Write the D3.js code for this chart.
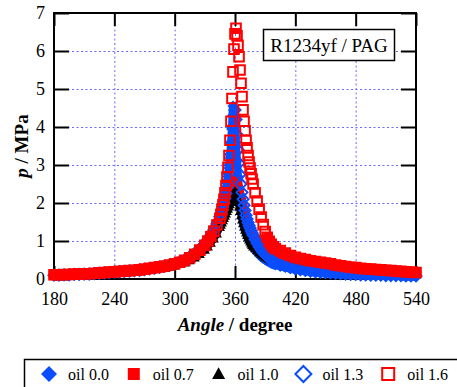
<!DOCTYPE html>
<html>
<head>
<meta charset="utf-8">
<script src="https://cdn.jsdelivr.net/npm/d3@7"></script>
<style>
  body { margin: 0; background: #fff; }
  svg { display: block; }
  svg text { font-family: "Liberation Serif", "Times New Roman", serif; fill: #000; }
</style>
</head>
<body>
<div id="chart"></div>
<script>
// crank angle (degree), shared by every series
const angles = [180,185,190,195,200,205,210,215,220,225,230,235,240,245,250,255,260,265,270,275,280,285,290,295,300,305,310,315,320,325,
  330,333,336,339,342,
  345,346,347,348,349,350,351,352,353,354,355,356,357,358,359,360,361,362,363,364,365,366,367,368,369,370,371,372,373,374,375,376,377,378,
  380,382,384,386,388,390,392,394,396,398,
  400,405,410,415,420,425,430,435,440,445,450,455,460,465,470,475,480,485,490,495,500,505,510,515,520,525,530,535,540];

// pressure p / MPa
const oil00 = [0.10,0.10,0.11,0.11,0.12,0.12,0.13,0.13,0.14,0.15,0.16,0.17,0.18,0.19,0.20,0.21,0.23,0.24,0.26,0.28,0.30,0.32,0.35,0.38,0.42,0.47,0.53,0.61,0.71,0.83,
  0.97,1.08,1.2,1.35,1.52,
  1.72,1.8,1.89,1.99,2.1,2.22,2.36,2.52,2.7,2.92,3.2,3.55,4.0,4.55,4.45,4.1,3.6,3.1,2.7,2.38,2.12,1.9,1.72,1.57,1.45,1.34,1.25,1.17,1.1,1.04,0.98,0.93,0.88,0.84,
  0.75,0.69,0.63,0.58,0.54,0.5,0.47,0.44,0.41,0.39,
  0.37,0.33,0.3,0.27,0.24,0.22,0.2,0.18,0.17,0.16,0.15,0.14,0.13,0.12,0.11,0.11,0.1,0.1,0.09,0.09,0.09,0.08,0.08,0.08,0.08,0.07,0.07,0.07,0.07];

const oil07 = [0.10,0.10,0.11,0.11,0.12,0.12,0.13,0.13,0.14,0.15,0.16,0.17,0.18,0.19,0.20,0.21,0.22,0.23,0.25,0.27,0.29,0.31,0.33,0.36,0.39,0.43,0.48,0.55,0.63,0.74,
  0.86,0.97,1.09,1.22,1.37,
  1.55,1.62,1.69,1.76,1.83,1.9,1.97,2.04,2.11,2.18,2.25,2.32,2.39,2.46,2.52,2.56,2.52,2.44,2.34,2.23,2.12,2.01,1.9,1.8,1.7,1.61,1.52,1.44,1.37,1.3,1.24,1.18,1.13,1.08,
  1.02,0.97,0.92,0.87,0.83,0.79,0.76,0.73,0.7,0.68,
  0.66,0.62,0.58,0.55,0.52,0.49,0.47,0.45,0.43,0.41,0.39,0.37,0.35,0.33,0.31,0.3,0.28,0.27,0.26,0.25,0.24,0.23,0.22,0.21,0.2,0.19,0.18,0.18,0.17];

const oil10 = [0.08,0.08,0.09,0.09,0.10,0.10,0.11,0.11,0.12,0.13,0.14,0.15,0.16,0.17,0.18,0.19,0.20,0.21,0.22,0.24,0.26,0.28,0.30,0.32,0.35,0.39,0.43,0.49,0.56,0.65,
  0.76,0.85,0.95,1.06,1.19,
  1.36,1.42,1.48,1.54,1.6,1.66,1.72,1.78,1.84,1.9,1.96,2.03,2.1,2.17,2.24,2.3,2.25,2.14,2.02,1.9,1.78,1.67,1.56,1.46,1.37,1.29,1.22,1.15,1.09,1.03,0.98,0.93,0.89,0.85,
  0.8,0.75,0.7,0.66,0.62,0.58,0.55,0.52,0.49,0.47,
  0.45,0.41,0.38,0.35,0.33,0.31,0.29,0.27,0.25,0.24,0.22,0.21,0.2,0.19,0.18,0.17,0.16,0.15,0.15,0.14,0.14,0.13,0.13,0.12,0.12,0.12,0.11,0.11,0.11];

const oil13 = [0.10,0.10,0.11,0.11,0.12,0.12,0.13,0.13,0.14,0.15,0.16,0.17,0.18,0.19,0.20,0.21,0.22,0.23,0.25,0.27,0.29,0.31,0.34,0.37,0.40,0.45,0.51,0.58,0.67,0.78,
  0.92,1.03,1.15,1.29,1.45,
  1.64,1.72,1.8,1.9,2.0,2.12,2.25,2.4,2.57,2.77,3.0,3.28,3.6,3.95,4.3,4.45,4.2,3.8,3.4,3.05,2.75,2.5,2.28,2.1,1.94,1.8,1.68,1.58,1.49,1.41,1.34,1.27,1.21,1.15,
  1.04,0.94,0.85,0.77,0.7,0.64,0.59,0.54,0.5,0.47,
  0.44,0.39,0.35,0.31,0.28,0.25,0.23,0.21,0.19,0.18,0.17,0.16,0.15,0.14,0.13,0.12,0.12,0.11,0.11,0.1,0.1,0.1,0.09,0.09,0.09,0.09,0.08,0.08,0.08];

const oil16 = [0.11,0.11,0.12,0.12,0.13,0.13,0.14,0.14,0.15,0.16,0.17,0.18,0.19,0.20,0.21,0.22,0.23,0.24,0.26,0.28,0.30,0.32,0.34,0.37,0.40,0.44,0.49,0.56,0.65,0.76,
  0.89,1.0,1.12,1.26,1.42,
  1.6,1.7,1.82,1.95,2.1,2.27,2.46,2.68,2.94,3.25,3.65,4.15,4.75,5.45,6.05,6.45,6.6,6.4,6.15,5.85,5.5,5.15,4.8,4.45,4.15,3.9,3.65,3.45,3.25,3.08,2.92,2.77,2.63,2.5,
  2.27,2.05,1.84,1.63,1.43,1.25,1.1,0.99,0.91,0.85,
  0.8,0.75,0.68,0.62,0.57,0.54,0.51,0.48,0.46,0.44,0.42,0.4,0.37,0.35,0.33,0.31,0.3,0.28,0.27,0.26,0.25,0.24,0.23,0.22,0.21,0.2,0.19,0.18,0.17];

const seriesNames = ["oil 0.0", "oil 0.7", "oil 1.0", "oil 1.3", "oil 1.6"];
const xTicks = [180, 240, 300, 360, 420, 480, 540];
const yTicks = [0, 1, 2, 3, 4, 5, 6, 7];
const gridX = [240, 300, 360, 420, 480];
const gridY = [1, 2, 3, 4, 5, 6];

const width = 457, height = 387;
const plot = {left: 54, top: 13, right: 416, bottom: 279};

const x = d3.scaleLinear().domain([180, 540]).range([plot.left, plot.right]);
const y = d3.scaleLinear().domain([0, 7]).range([plot.bottom, plot.top]);

const svg = d3.select("#chart").append("svg")
  .attr("width", width).attr("height", height);

// marker shapes
function shapePath(kind, s) {
  if (kind === "diamond") return "M0," + (-s) + "L" + s + ",0L0," + s + "L" + (-s) + ",0Z";
  if (kind === "square") return "M" + (-s) + "," + (-s) + "h" + 2*s + "v" + 2*s + "h" + (-2*s) + "Z";
  // triangle
  return "M0," + (-s*1.05) + "L" + s + "," + s*0.75 + "L" + (-s) + "," + s*0.75 + "Z";
}

// band = width of the trail left by densely packed markers,
// bandMax = pressure above which the markers are sparse enough to stand apart
const styles = [
  {kind: "diamond", color: "#0a4dff", open: false, size: 5.5, lsize: 8, band: 8, bandMax: 99},
  {kind: "square", color: "#ff0000", open: false, size: 5, lsize: 6, band: 11, bandMax: 99},
  {kind: "triangle", color: "#000", open: false, size: 5, lsize: 6.5, band: 7, bandMax: 99},
  {kind: "diamond", color: "#0a4dff", open: true, size: 5.5, lsize: 8, band: 8, bandMax: 1.0},
  {kind: "square", color: "#ff0000", open: true, size: 4.8, lsize: 6, band: 10, bandMax: 1.2}
];

const seriesValues = [oil00, oil07, oil10, oil13, oil16];

// grid
const grid = svg.append("g");
grid.append("g")
  .attr("transform", "translate(0," + plot.bottom + ")")
  .call(d3.axisBottom(x).tickValues(gridX).tickSize(-(plot.bottom - plot.top)).tickFormat(""));
grid.append("g")
  .attr("transform", "translate(" + plot.left + ",0)")
  .call(d3.axisLeft(y).tickValues(gridY).tickSize(-(plot.right - plot.left)).tickFormat(""));
grid.selectAll(".domain").remove();
grid.selectAll(".tick line")
  .attr("stroke", "#6b6bff")
  .attr("stroke-width", 1)
  .attr("stroke-dasharray", "2,2.5");

// axes with inward ticks
const axes = svg.append("g");
axes.append("g")
  .attr("transform", "translate(0," + plot.bottom + ")")
  .call(d3.axisBottom(x).tickValues(xTicks).tickSize(-13).tickPadding(13).tickFormat(d3.format("d")));
axes.append("g")
  .attr("transform", "translate(" + plot.left + ",0)")
  .call(d3.axisLeft(y).tickValues(yTicks).tickSize(-15).tickPadding(9).tickFormat(d3.format("d")));
axes.append("g")
  .attr("transform", "translate(0," + plot.top + ")")
  .call(d3.axisTop(x).tickValues(xTicks).tickSize(-13).tickFormat(""));
axes.append("g")
  .attr("transform", "translate(" + plot.right + ",0)")
  .call(d3.axisRight(y).tickValues(yTicks).tickSize(-15).tickFormat(""));
axes.selectAll("g").attr("font-family", null).attr("font-size", null);
axes.selectAll(".domain").remove();
axes.selectAll(".tick line").attr("stroke", "#000").attr("stroke-width", 2);
axes.selectAll(".tick text")
  .style("font-family", "'Liberation Serif', 'Times New Roman', serif")
  .style("font-size", "18px")
  .attr("fill", "#000");

axes.append("rect")
  .attr("x", plot.left).attr("y", plot.top)
  .attr("width", plot.right - plot.left).attr("height", plot.bottom - plot.top)
  .attr("fill", "none").attr("stroke", "#000").attr("stroke-width", 2);

// series: dense trail + markers
seriesValues.forEach(function(vals, i) {
  const st = styles[i];
  const pts = angles.map(function(a, j) { return {a: a, p: vals[j]}; });
  const trail = d3.line()
    .defined(function(d) { return d.p <= st.bandMax; })
    .x(function(d) { return x(d.a); })
    .y(function(d) { return y(d.p); })
    .curve(d3.curveMonotoneX);
  const g = svg.append("g");
  g.append("path")
    .attr("d", trail(pts))
    .attr("fill", "none")
    .attr("stroke", st.color)
    .attr("stroke-width", st.band)
    .attr("stroke-linejoin", "round")
    .attr("stroke-linecap", "round");
  g.selectAll(".mk")
    .data(pts)
    .enter().append("path")
    .attr("class", "mk")
    .attr("transform", function(d) { return "translate(" + x(d.a) + "," + y(d.p) + ")"; })
    .attr("d", shapePath(st.kind, st.size))
    .attr("fill", st.open ? "none" : st.color)
    .attr("stroke", st.open ? st.color : "none")
    .attr("stroke-width", 2);
});

// label box
svg.append("rect")
  .attr("x", 263.5).attr("y", 29.5).attr("width", 131).attr("height", 31)
  .attr("fill", "#fff").attr("stroke", "#000").attr("stroke-width", 1.5);
svg.append("text")
  .attr("x", 329).attr("y", 51.5)
  .attr("text-anchor", "middle")
  .style("font-size", "19px")
  .text("R1234yf / PAG");

// axis titles
const xt = svg.append("text")
  .attr("x", (plot.left + plot.right) / 2).attr("y", 331)
  .attr("text-anchor", "middle").style("font-size", "19px").attr("font-weight", "bold");
xt.append("tspan").attr("font-style", "italic").text("Angle");
xt.append("tspan").text(" / degree");

const yt = svg.append("text")
  .attr("transform", "translate(28," + (plot.top + plot.bottom) / 2 + ") rotate(-90)")
  .attr("text-anchor", "middle").style("font-size", "19px").attr("font-weight", "bold");
yt.append("tspan").attr("font-style", "italic").text("p");
yt.append("tspan").text(" / MPa");

// legend
const legend = svg.append("g");
legend.append("rect")
  .attr("x", 24.5).attr("y", 359.5).attr("width", 480).attr("height", 60)
  .attr("fill", "#fff").attr("stroke", "#000").attr("stroke-width", 1.5);
seriesNames.forEach(function(name, i) {
  const st = styles[i];
  const cx = 49 + i * 84.8;
  legend.append("path")
    .attr("transform", "translate(" + cx + ",374)")
    .attr("d", shapePath(st.kind, st.lsize))
    .attr("fill", st.open ? "none" : st.color)
    .attr("stroke", st.open ? st.color : "none")
    .attr("stroke-width", 2);
  legend.append("text")
    .attr("x", cx + 19).attr("y", 379.5)
    .style("font-size", "16px")
    .text(name);
});
</script>
</body>
</html>
